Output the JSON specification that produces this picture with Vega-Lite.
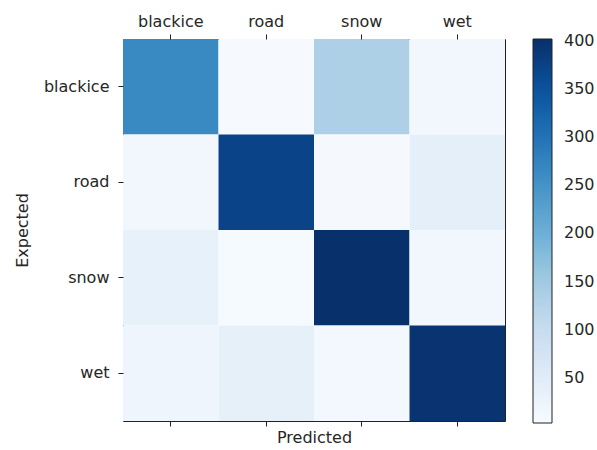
{
  "$schema": "https://vega.github.io/schema/vega-lite/v6.json",
  "width": 382,
  "height": 382,
  "autosize": {"type": "none"},
  "padding": {"left": 123, "top": 39, "right": 92, "bottom": 29},
  "background": "white",
  "data": {
    "values": [
      {"expected": "blackice", "predicted": "blackice", "count": 265},
      {"expected": "blackice", "predicted": "road", "count": 5},
      {"expected": "blackice", "predicted": "snow", "count": 135},
      {"expected": "blackice", "predicted": "wet", "count": 15},
      {"expected": "road", "predicted": "blackice", "count": 15},
      {"expected": "road", "predicted": "road", "count": 372},
      {"expected": "road", "predicted": "snow", "count": 8},
      {"expected": "road", "predicted": "wet", "count": 40},
      {"expected": "snow", "predicted": "blackice", "count": 35},
      {"expected": "snow", "predicted": "road", "count": 7},
      {"expected": "snow", "predicted": "snow", "count": 402},
      {"expected": "snow", "predicted": "wet", "count": 15},
      {"expected": "wet", "predicted": "blackice", "count": 22},
      {"expected": "wet", "predicted": "road", "count": 38},
      {"expected": "wet", "predicted": "snow", "count": 12},
      {"expected": "wet", "predicted": "wet", "count": 396}
    ]
  },
  "layer": [
    {
      "mark": {"type": "rect"},
      "encoding": {
        "x": {
          "field": "predicted", "type": "nominal",
          "sort": ["blackice", "road", "snow", "wet"],
          "scale": {"paddingInner": 0, "paddingOuter": 0},
          "axis": {"orient": "top", "title": null, "labelAngle": 0, "labelPadding": 5}
        },
        "y": {
          "field": "expected", "type": "nominal",
          "sort": ["blackice", "road", "snow", "wet"],
          "scale": {"paddingInner": 0, "paddingOuter": 0},
          "axis": {"title": "Expected", "labelPadding": 9, "titlePadding": 13}
        },
        "color": {
          "field": "count", "type": "quantitative",
          "scale": {
            "domain": [3, 52.875, 102.75, 152.625, 202.5, 252.375, 302.25, 352.125, 402],
            "range": ["#f7fbff", "#deebf7", "#c6dbef", "#9ecae1", "#6baed6", "#4292c6", "#2171b5", "#08519c", "#08306b"]
          },
          "legend": {
            "title": null,
            "orient": "right",
            "offset": 28,
            "gradientLength": 384,
            "gradientThickness": 19,
            "gradientStrokeColor": "#222",
            "gradientStrokeWidth": 1,
            "values": [50, 100, 150, 200, 250, 300, 350, 400],
            "labelFontSize": 16,
            "labelColor": "#262626",
            "labelFont": "DejaVu Sans",
            "labelOffset": 12,
            "labelBaseline": "middle",
            "labelOverlap": false
          }
        }
      }
    },
    {
      "mark": {"type": "rect", "opacity": 0},
      "encoding": {
        "x": {
          "field": "predicted", "type": "nominal",
          "sort": ["blackice", "road", "snow", "wet"],
          "axis": {"orient": "bottom", "labels": false, "title": "Predicted", "titlePadding": 3}
        },
        "y": {
          "field": "expected", "type": "nominal",
          "sort": ["blackice", "road", "snow", "wet"],
          "axis": {"title": "Expected", "labelPadding": 9, "titlePadding": 13}
        }
      }
    }
  ],
  "resolve": {"axis": {"x": "independent"}},
  "config": {
    "view": {"stroke": "#222", "strokeWidth": 1},
    "axis": {
      "domain": false,
      "grid": false,
      "ticks": true,
      "tickColor": "#222",
      "tickSize": 5,
      "labelFont": "DejaVu Sans",
      "labelFontSize": 16,
      "labelColor": "#262626",
      "titleFont": "DejaVu Sans",
      "titleFontSize": 16,
      "titleFontWeight": "normal",
      "titleColor": "#262626"
    }
  }
}
